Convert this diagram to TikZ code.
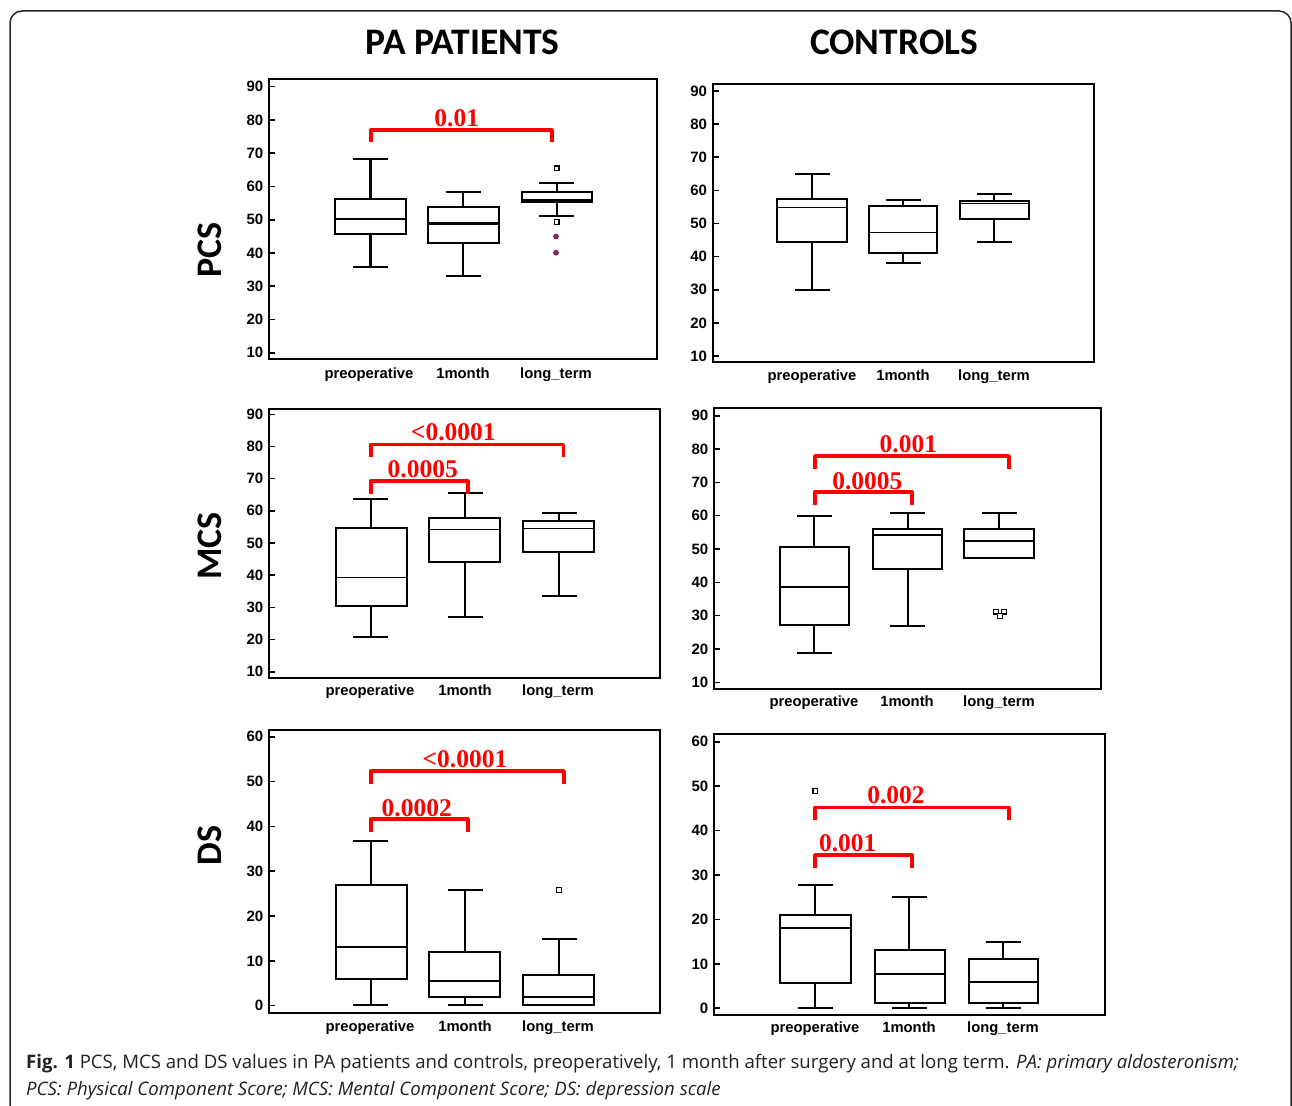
\documentclass[tikz,border=0pt]{standalone}
\usepackage{fontspec}
\setmainfont{Liberation Sans}
\newfontfamily\hdfont{Carlito}
\newfontfamily\pvfont{Liberation Serif}
\newfontfamily\capfont{Open Sans}
\definecolor{purp}{HTML}{8B2455}
\definecolor{captxt}{HTML}{231F20}
\tikzset{
  bx/.style={draw=black, line width=2.2pt},
  medline/.style={line width=2.2pt},
  frm/.style={draw=black, line width=2.2pt},
  tickline/.style={draw=black, line width=1.6pt},
  ticklab/.style={font=\fontsize{15}{15}\selectfont\bfseries, anchor=east, inner sep=0pt},
  catlab/.style={font=\fontsize{14.8}{15}\selectfont\bfseries, inner sep=0pt, anchor=base},
  pbr/.style={draw=red, line width=3.6pt, line join=round},
  pval/.style={text=red, font=\pvfont\bfseries\fontsize{25.5}{26}\selectfont, inner sep=0pt},
  outl/.style={draw=black, line width=1.3pt, fill=white},
  poutl/.style={fill=purp, draw=none},
  hd/.style={font=\hdfont\bfseries\fontsize{37.5}{38}\selectfont, inner sep=0pt},
  rowlab/.style={font=\hdfont\bfseries\fontsize{36}{36}\selectfont, inner sep=0pt, rotate=90},
  capn/.style={font=\capfont\fontsize{18.6}{20}\selectfont, text=captxt, inner sep=0pt, anchor=base west},
  outer/.style={draw=black!85, line width=1.5pt, rounded corners=12pt}
}
% box plot: cx, box left, box right, whisker top, box top, median, box bottom, whisker bottom
\newcommand\bplot[8]{%
  \draw[bx] (#1,#4) -- (#1,#5);
  \draw[bx] (#1,#7) -- (#1,#8);
  \draw[bx] (#1-17.5,#4) -- (#1+17.5,#4);
  \draw[bx] (#1-17.5,#8) -- (#1+17.5,#8);
  \draw[bx] (#2,#5) rectangle (#3,#7);
  \draw[bx,medline] (#2,#6) -- (#3,#6);
}
% ticks: prefix, frame left x, top tick y, step, labels
\newcommand\yticks[5]{%
  \foreach \lab [count=\k from 0] in {#5} {
    \pgfmathsetmacro\yy{#3+\k*#4}
    \draw[tickline] (#2,\yy) -- ++(6,0);
    \node[ticklab] (#1\k) at (#2-5.5,\yy) {\lab};
  }%
}
% category labels: prefix, y (visual centre), x1, x2, x3 -- set on a common baseline
\newcommand\cats[5]{%
  \node[catlab] (#1a) at (#3,#2+4.8) {preoperative};
  \node[catlab] (#1b) at (#4,#2+4.8) {1month};
  \node[catlab] (#1c) at (#5,#2+4.8) {long\_term};
}
% p-value bracket: x1, x2, top y, leg bottom y
\newcommand\pbracket[4]{%
  \draw[pbr] (#1,#4) -- (#1,#3) -- (#2,#3) -- (#2,#4);
}
\newcommand\osq[2]{\draw[outl] (#1-2.4,#2-2.4) rectangle (#1+2.4,#2+2.4);}
\newcommand\psq[2]{\fill[poutl] (#1,#2) circle[radius=2.9];}
\begin{document}
\begin{tikzpicture}[x=1pt,y=-1pt]
\useasboundingbox (0,0) rectangle (1292,1105);
\fill[white] (0,0) rectangle (1292,1105);
\draw[outer] (10,1106) -- (10,11) -- (1291,11) -- (1291,1106);

% headers
\node[hd] (hpa) at (462.5,42) {PA PATIENTS};
\node[hd] (hco) at (894,42) {CONTROLS};
\node[rowlab] (rpcs) at (210,250) {PCS};
\node[rowlab] (rmcs) at (210,546) {MCS};
\node[rowlab] (rds) at (210,845.5) {DS};

% ---------- Panel 1: PA PCS ----------
\draw[frm] (269,79.3) rectangle (656.7,359.3);
\yticks{pa}{269}{86.7}{33.25}{90,80,70,60,50,40,30,20,10}
\begin{scope}[medline/.style={line width=2.5pt}]
\bplot{370.5}{335}{405.7}{158.7}{199.3}{219}{234}{266.7}
\bplot{463.2}{427.7}{498.7}{192.3}{206.7}{223.7}{243}{275.7}
\bplot{556.7}{521.7}{591.7}{183.3}{192.3}{199.8}{201.7}{215.7}
\end{scope}
\osq{556.7}{168.3}
\osq{556.7}{222}
\psq{556}{236.5}
\psq{556}{252.7}
\pbracket{370.7}{551.7}{130}{142}
\node[pval] (v1) at (456.7,118) {0.01};
\cats{ca}{374}{369}{463}{556}

% ---------- Panel 2: Controls PCS ----------
\draw[frm] (712.7,84.3) rectangle (1094.3,362.3);
\yticks{pb}{712.7}{91}{33.125}{90,80,70,60,50,40,30,20,10}
\begin{scope}[medline/.style={line width=1.2pt}]
\bplot{812.3}{777.3}{846.7}{174.3}{199}{207.7}{241.7}{290}
\bplot{903.3}{868.7}{937.3}{200}{206}{232.3}{253.3}{262.7}
\bplot{994.3}{960}{1029}{193.7}{201}{203.3}{219}{241.7}
\end{scope}
\cats{cb}{376}{812}{903}{994}

% ---------- Panel 3: PA MCS ----------
\draw[frm] (269,409) rectangle (660,677.7);
\yticks{pc}{269}{414.3}{32.175}{90,80,70,60,50,40,30,20,10}
\begin{scope}[medline/.style={line width=1.5pt}]
\bplot{370.7}{335.7}{406.7}{499}{527.7}{577.3}{605.7}{636.7}
\bplot{465}{429.3}{500.3}{492.7}{518.3}{529.3}{561.7}{617}
\bplot{559}{523.3}{594}{513}{521.3}{528.3}{551.7}{595.7}
\end{scope}
\pbracket{370.7}{563.3}{444.3}{457}
\node[pval] (v3a) at (453.3,431.7) {<0.0001};
\pbracket{370.7}{467.7}{481}{493.5}
\node[pval] (v3b) at (422.7,469) {0.0005};
\cats{cc}{690.7}{370}{465}{558}

% ---------- Panel 4: Controls MCS ----------
\draw[frm] (714,408.3) rectangle (1100.7,689.3);
\yticks{pd}{714}{415.7}{33.325}{90,80,70,60,50,40,30,20,10}
\bplot{814.3}{780}{849.3}{515.7}{546.7}{587}{625}{652.7}
\bplot{907.7}{872.7}{942.3}{513.3}{529}{535}{569.3}{626}
\bplot{999.3}{964.3}{1034.3}{513.3}{529}{541}{558.3}{558.3}
\osq{996}{611.7}
\osq{1004}{611.7}
\osq{1000}{616}
\pbracket{815}{1009}{456}{468.5}
\node[pval] (v4a) at (908.3,444.3) {0.001};
\pbracket{815}{911.7}{491.7}{504.5}
\node[pval] (v4b) at (867.3,481) {0.0005};
\cats{cd}{701.7}{814}{907}{999}

% ---------- Panel 5: PA DS ----------
\draw[frm] (269,730) rectangle (660,1012.7);
\yticks{pe}{269}{736.7}{44.83}{60,50,40,30,20,10,0}
\bplot{370.7}{335.7}{406.7}{841}{885}{946.7}{979.3}{1005.3}
\bplot{465}{429.3}{500.3}{889.7}{952}{981}{996.7}{1005.3}
\bplot{559}{523.3}{594}{938.7}{974.7}{996.7}{1005.3}{1005.3}
\osq{559}{890}
\pbracket{370.7}{564}{771}{783.5}
\node[pval] (v5a) at (465,759.3) {<0.0001};
\pbracket{370.7}{467.7}{819}{831.5}
\node[pval] (v5b) at (416.7,808.3) {0.0002};
\cats{ce}{1026.7}{370}{465}{558}

% ---------- Panel 6: Controls DS ----------
\draw[frm] (714,734.3) rectangle (1105,1015);
\yticks{pf}{714}{741.7}{44.43}{60,50,40,30,20,10,0}
\bplot{815}{780}{851}{884.7}{915.3}{928.3}{983.3}{1008}
\bplot{909.3}{875}{945.3}{897}{950}{973.7}{1003.3}{1008}
\bplot{1003.3}{968.7}{1038.3}{941.7}{959.3}{982}{1003.3}{1008}
\osq{815.3}{791}
\pbracket{815}{1009}{807.3}{819.5}
\node[pval] (v6a) at (896,795) {0.002};
\pbracket{815}{911.7}{855}{867.5}
\node[pval] (v6b) at (847.7,843.3) {0.001};
\cats{cf}{1027.3}{815}{909}{1003}

% caption
\node[capn] (cap1) at (26,1068) {\textbf{Fig. 1} PCS, MCS and DS values in PA patients and controls, preoperatively, 1 month after surgery and at long term. \textit{PA: primary aldosteronism;}};
\node[capn] (cap2) at (26,1095) {\textit{PCS: Physical Component Score; MCS: Mental Component Score; DS: depression scale}};
\end{tikzpicture}
\end{document}
